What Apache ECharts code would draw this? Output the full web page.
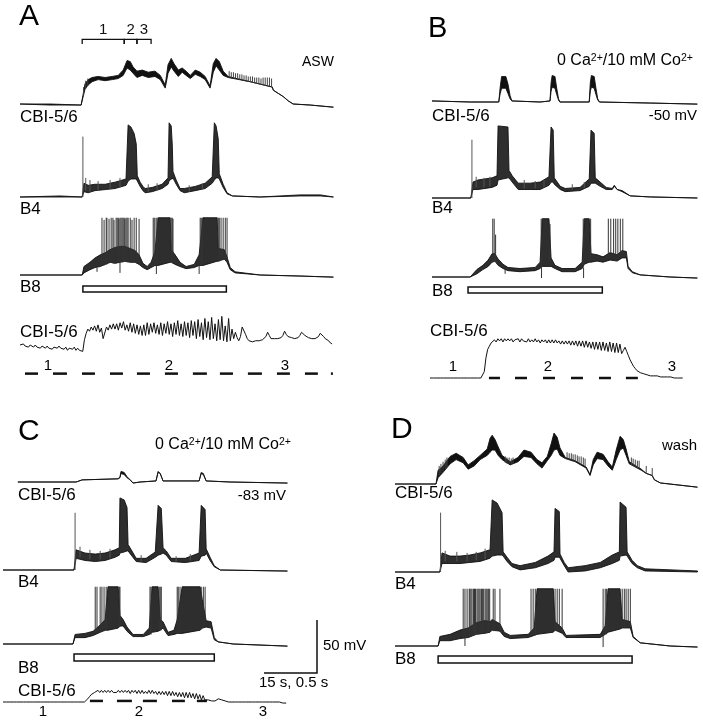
<!DOCTYPE html>
<html><head><meta charset="utf-8">
<script src="https://cdn.jsdelivr.net/npm/echarts@6/dist/echarts.min.js"></script>
<style>html,body{margin:0;padding:0;background:#fff}#c{width:703px;height:720px}</style>
</head><body><div id="c"></div>
<script>
// ---------- DATA (slow traces: time s, voltage mV above rest; [t, low, high]) ----------
// Panel A (ASW)
const A_CBI = [[0,0,0],[8.5,-1,0],[17.3,-1,-1],[17.8,6,8],[18.4,14,19],[19.3,18,23],[20.4,21,25],[22.1,23,26],[24.1,22,25],[26.1,23,26],[27.8,24,27],[29.2,27,32],[30.3,34,41],[31.2,32,40],[32.0,29,35],[33.1,25,31],[34.6,27,32],[36.3,25,30],[38.2,26,31],[39.7,23,27],[41.1,15,18],[41.9,29,37],[42.8,35,43],[43.6,31,38],[44.8,26,32],[45.9,30,34],[47.0,27,31],[48.2,24,27],[49.6,28,32],[51.0,26,30],[52.4,23,26],[53.8,15,17],[54.7,30,38],[55.5,36,43],[56.4,32,40],[57.5,27,31],[58.9,25,26],[65.2,21,21],[71.4,16,16],[71.7,13,13],[73.1,10,10],[74.5,7,7],[75.9,3,3],[77.3,0,0],[82.2,-1,-1],[88.7,-3,-3]];
const A_CBI_spk = [[18.0,8,16],[18.6,14,22],[19.2,17,24],[59.2,25,31],[59.8,24,30],[60.4,24,30],[61.0,24,29],[61.6,23,29],[62.2,23,28],[62.8,22,28],[63.4,22,27],[64.0,21,27],[64.6,21,26],[65.2,21,26],[65.8,20,26],[66.4,20,25],[67.0,19,25],[67.6,19,25],[68.2,18,24],[68.8,18,25],[69.4,17,25],[70.0,17,25],[70.6,17,25],[71.2,16,24]];
const A_B4 = [[0,0,0],[11.3,0,1],[17.6,0,0],[18.1,5,13],[19.3,4,11],[21.2,6,12],[24.1,7,12],[26.9,8,14],[30.0,11,17],[30.6,15,68],[31.4,17,66],[32.3,17,60],[32.9,17,50],[33.2,15,20],[34.0,10,14],[34.8,6,10],[35.4,4,8],[37.4,5,9],[40.2,8,12],[41.9,12,18],[42.2,15,70],[42.8,17,67],[43.1,17,49],[43.3,18,24],[44.2,12,16],[45.3,6,8],[46.5,4,8],[49.6,6,10],[52.4,8,13],[54.4,13,19],[55.0,16,70],[55.5,18,67],[56.1,18,55],[56.4,17,22],[57.5,9,12],[58.6,3,4],[60.1,1,1],[68.0,0,0],[79.3,1,2],[85.0,1,2],[88.7,0,0]];
const A_B4_spk = [[17.8,0,57],[18.6,6,18],[19.8,5,16],[22.1,6,15],[25.5,7,16],[28.3,9,18],[36.3,5,12],[38.8,6,13],[47.9,5,11],[51.6,7,13]];
const A_B8 = [[0,0,0],[17.6,0,0],[18.1,2,8],[19.8,5,12],[21.2,7,16],[22.7,8,19],[24.1,10,21],[25.5,12,24],[26.9,11,26],[28.3,12,27],[29.7,13,27],[31.2,12,25],[32.6,12,23],[33.7,10,19],[34.8,7,11],[36.0,5,8],[37.1,7,12],[38.2,9,22],[39.1,9,54],[42.5,12,54],[42.8,12,24],[43.9,10,19],[45.3,8,12],[47.0,6,8],[49.3,7,10],[50.7,9,19],[51.8,9,54],[55.8,13,54],[56.1,13,25],[57.8,15,24],[58.6,12,17],[59.5,5,7],[60.9,2,3],[68.0,0,0],[79.3,-1,-1],[88.7,-2,-2]];
const A_B8_spk = [[23.2,9,54],[23.8,9,52],[24.4,10,54],[24.6,10,54],[25.2,11,53],[25.8,12,54],[26.3,11,54],[26.6,11,52],[27.2,11,54],[27.5,12,54],[27.8,12,54],[28.0,12,53],[28.3,12,54],[28.6,12,54],[28.9,12,54],[29.2,12,54],[29.5,13,54],[29.7,13,53],[30.0,13,54],[30.3,12,54],[30.6,12,54],[31.2,12,54],[31.7,12,52],[32.3,12,54],[32.9,11,54],[33.7,10,53],[37.7,8,54],[38.0,9,54],[38.5,9,54],[38.8,9,54],[42.8,12,54],[43.1,12,54],[43.3,11,53],[51.0,9,54],[51.3,9,54],[51.6,9,54],[56.1,13,54],[56.4,13,54],[56.9,14,54],[57.5,14,54],[58.1,15,54],[58.6,12,54],[28.3,12,2],[38.6,9,1],[50.7,9,1],[21.8,7,3]];
const A_STIM = [17.8, 58.4];
const A_BRACKET = [17.6, 29.5, 33.1, 37.1];
const A_BRACKET_LABELS = ['1', '2', '3'];
// expanded CBI-5/6 (16 ms samples, mV)
const A_EXP = [0,-1,1,-1,0,-2,0,-1,-2,0,-2,-1,-3,-1,-2,-3,-1,-3,-2,-4,-2,-1,-3,-1,-3,-2,-4,-2,-5,-3,-2,-4,-2,-5,-3,-5,-4,-6,
 5,11,15,13,17,14,18,13,19,12,16,6,5,17,14,19,15,20,15,20,14,21,16,22,14,19,13,21,12,20,11,19,10,18,9,
 19,9,21,10,20,12,21,11,19,10,21,9,20,11,22,10,20,8,21,10,23,9,20,8,22,9,21,7,23,9,22,6,24,8,21,5,25,7,22,5,26,6,20,4,24,5,27,4,18,3,25,4,15,6,
 12,7,4,8,17,18,10,6,4,3,3,3,4,4,4,4,5,5,8,12,9,6,6,6,6,6,6,7,9,13,10,8,7,7,7,6,7,7,9,12,13,9,8,7,7,6,6,6,7,8,11,12,8,6,5,4,2,1];
const A_EXP_PULSES = [[47,170],[311,443],[585,707],[849,971],[1103,1226],[1367,1490],[1631,1763],[1886,2009],[2150,2282],[2424,2546],[2688,2810],[2933,2952]];

// Panel B (0 Ca / 10 mM Co, -50 mV)
const B_CBI = [[0,1,1],[10.8,0,0],[18.9,0,0],[19.3,8,14],[19.7,13,24],[20.9,13,24],[21.5,8,17],[22.1,3,6],[22.6,1,1],[30.6,0,0],[33.4,1,1],[33.7,10,18],[34.0,14,25],[34.8,13,24],[35.3,7,13],[35.8,2,3],[36.2,0,0],[44.5,0,0],[44.8,10,18],[45.1,14,25],[45.9,13,24],[46.4,7,13],[46.9,2,3],[47.4,0,0],[61.8,-1,-1],[75.1,-2,-2]];
const B_B4 = [[0,0,0],[11.0,0,0],[11.6,8,15],[13.0,8,17],[15.0,9,18],[17.0,10,19],[18.4,12,21],[18.7,17,68],[21.5,19,67],[21.8,19,26],[22.7,15,21],[24.4,8,14],[27.8,8,14],[30.6,8,15],[33.1,12,20],[33.7,15,67],[34.3,15,64],[34.6,13,19],[36.3,8,11],[37.7,6,9],[41.9,7,10],[44.5,11,18],[45.0,14,64],[45.9,14,61],[46.2,14,19],[47.6,11,15],[49.3,8,10],[51.0,8,9],[51.6,11,12],[52.4,8,8],[53.8,6,7],[56.1,2,2],[61.8,1,1],[75.1,0,0]];
const B_B4_spk = [[11.3,0,55],[12.5,10,20],[14.7,10,19],[16.4,11,20],[26.1,9,17],[29.2,9,16],[31.7,10,17],[39.7,8,13],[43.1,9,15]];
const B_B8 = [[0,0,0],[10.8,0,0],[12.7,3,7],[14.4,7,11],[15.9,10,16],[17.0,14,22],[17.8,15,22],[18.7,11,17],[20.1,8,12],[21.5,6,9],[24.9,5,8],[29.2,6,9],[30.6,8,14],[31.2,10,55],[33.1,10,55],[33.7,10,18],[34.8,8,11],[36.8,5,8],[40.5,5,8],[42.5,8,14],[43.1,12,55],[44.5,14,55],[45.0,14,22],[46.7,15,21],[48.4,14,19],[50.4,16,23],[52.4,15,21],[53.8,18,25],[55.0,18,24],[55.5,8,10],[56.7,4,5],[58.9,2,2],[67.4,0,0],[75.1,-1,-1]];
const B_B8_spk = [[17.2,14,55],[17.6,14,55],[18.0,15,40],[30.9,9,55],[33.4,10,50],[42.8,10,55],[44.9,14,55],[49.9,20,55],[50.6,20,55],[51.4,20,55],[52.0,20,55],[52.6,20,55],[53.3,22,55],[54.0,22,55],[31.0,9,-1],[42.9,9,-1],[20.7,8,3]];
const B_STIM = [10.2, 48.2];
const B_EXP = [0,0,0,0,0,0,0,0,0,0,0,0,0,0,0,0,0,0,0,0,0,0,0,0,0,0,0,0,0,0,0,0,
 6,19,27,30,33,32,36,34,37,
 35,37,34,37,35,37,35,37,34,36,35,37,34,37,35,36,34,37,34,36,34,37,34,36,33,36,34,36,33,36,33,36,33,36,33,35,32,35,32,35,32,35,31,35,
 31,35,30,35,30,35,29,35,29,34,28,34,27,34,27,34,26,34,26,33,25,34,25,33,24,33,24,32,23,
 26,29,25,21,17,14,11,9,7,6,5,4,4,3,3,3,2,2,2,2,2,2,1,1,1,1,1,1,1,0,0,0,0,0,0,0];
const B_EXP_PULSES = [[556,660],[802,915],[1066,1179],[1330,1443],[1594,1707],[1848,1961]];

// Panel C (0 Ca / 10 mM Co, -83 mV)
const C_CBI = [[4.2,0,0],[20.7,0,0],[22.4,2,2],[32.6,3,3],[33.1,4,5],[33.4,8,10],[34.3,7,9],[35.1,4,5],[36.0,2,2],[36.8,-1,-1],[38.8,0,0],[43.3,1,1],[43.9,9,10],[44.5,8,8],[45.3,1,1],[55.5,1,1],[56.1,8,9],[56.7,7,8],[57.5,1,1],[64.3,0,0],[80.5,-1,-1]];
const C_B4 = [[0,0,0],[20.1,0,0],[20.7,11,19],[23.2,9,16],[26.1,8,15],[28.9,9,16],[31.7,12,19],[32.9,14,21],[33.1,16,68],[34.3,17,66],[35.1,18,59],[35.4,18,24],[36.3,14,19],[37.7,8,11],[40.5,7,11],[43.1,12,17],[43.9,14,61],[44.8,15,58],[45.3,16,21],[46.2,14,18],[47.6,8,11],[51.6,7,11],[55.5,9,16],[56.1,13,61],[57.2,14,57],[57.5,16,20],[58.6,9,12],[59.8,3,4],[61.5,0,0],[80.5,-1,-1]];
const C_B4_spk = [[20.4,0,54],[21.8,12,22],[24.6,10,19],[27.5,10,18],[30.3,11,20],[39.1,8,14],[49.0,8,13],[53.0,9,15]];
const C_B8 = [[0,0,0],[19.8,0,0],[20.4,6,9],[23.2,6,10],[25.5,8,12],[27.5,11,18],[28.9,13,23],[29.7,13,54],[32.6,15,54],[33.1,17,27],[34.0,17,23],[35.1,12,16],[36.8,7,9],[39.7,7,9],[41.4,9,15],[42.2,11,54],[43.9,12,54],[44.5,13,23],[45.3,15,21],[46.7,8,11],[48.4,9,13],[49.3,10,23],[50.7,10,54],[55.8,13,54],[56.4,15,42],[57.5,16,22],[58.9,15,21],[59.8,4,6],[60.9,2,2],[65.2,0,0],[80.5,-2,-2]];
const C_B8_spk = [[26.1,11,54],[26.6,11,54],[27.5,11,54],[28.0,12,54],[28.6,12,54],[29.2,13,54],[32.9,16,54],[33.1,16,54],[41.6,9,54],[41.9,9,54],[44.2,13,54],[44.5,13,54],[44.8,13,54],[49.3,10,54],[49.6,10,54],[50.1,10,54],[56.1,14,54],[56.7,15,54],[57.2,16,54]];
const C_STIM = [20.1, 59.8];
const C_EXP = [0,0,0,0,0,0,0,0,0,0,0,0,0,0,0,0,0,0,0,0,0,0,0,0,0,0,0,0,0,0,0,0,0,0,0,0,0,0,0,0,0,0,0,0,0,0,0,0,0,
 1,3,5,7,8,9,10,
 11,9,11,9,11,9,11,9,11,9,10,9,11,9,11,9,11,9,11,8,11,9,11,8,11,8,11,8,10,8,11,8,11,8,10,7,10,7,10,7,10,6,10,6,10,6,9,5,9,5,9,4,9,4,9,4,8,3,8,3,7,2,6,2,
 3,2,1,1,1,1,1,3,3,2,1,1,1,0,0,0,0,0,0,0,0,0,0,0,0,0,0,0,0,0,0,0,0,0,0,0,0,0,0,0,0,0,0,0,0,-1,-1,-1];
const C_EXP_PULSES = [[820,943],[1075,1216],[1320,1452],[1594,1716],[1829,1924]];

// Panel D (wash)
const D_CBI = [[0,0,0],[11.6,0,0],[12.2,6,13],[13.6,11,17],[15.6,19,26],[17.3,23,29],[19.3,20,25],[20.7,14,18],[22.4,17,22],[24.1,23,27],[26.1,27,33],[26.9,30,43],[27.5,32,46],[28.3,32,42],[29.2,27,35],[30.3,23,27],[32.6,18,21],[34.8,21,25],[36.5,26,32],[38.5,25,30],[40.2,19,23],[41.6,15,20],[43.1,22,26],[44.2,27,38],[45.0,32,48],[45.9,33,44],[46.7,27,34],[48.2,24,25],[51.0,21,22],[54.1,15,16],[55.2,8,9],[56.1,18,23],[57.2,24,30],[58.9,23,28],[60.3,17,21],[61.5,13,16],[62.6,23,32],[63.7,32,45],[64.6,34,42],[65.4,27,33],[66.3,19,21],[69.7,13,14],[71.1,10,10],[72.8,8,8],[73.4,4,4],[75.1,1,1],[85.6,-3,-3]];
const D_CBI_spk = [[12.5,8,17],[13.0,10,19],[13.6,12,21],[14.2,14,23],[14.7,16,25],[31.2,20,26],[31.7,19,25],[32.3,19,25],[32.9,18,24],[33.4,19,25],[48.7,24,30],[49.3,23,29],[49.9,23,29],[50.4,22,28],[51.0,21,28],[51.6,21,27],[52.1,20,26],[52.7,19,26],[53.3,18,25],[53.8,17,24],[66.9,18,25],[67.4,17,24],[68.0,16,23],[68.6,15,22],[69.1,15,22],[71.1,10,17],[72.8,8,15]];
const D_B4 = [[0,0,0],[12.7,0,0],[13.3,8,18],[15.6,8,15],[18.4,8,15],[21.2,9,16],[24.1,10,18],[26.9,13,21],[27.5,15,68],[28.9,16,65],[30.3,16,56],[30.6,15,19],[31.7,10,14],[33.1,5,8],[35.4,2,6],[39.7,4,9],[43.3,8,15],[45.0,11,19],[45.3,14,60],[46.5,14,57],[46.7,13,17],[47.9,6,9],[49.0,0,4],[53.8,1,6],[58.1,4,9],[61.5,8,16],[63.5,11,19],[63.7,15,66],[65.4,16,61],[65.7,15,19],[67.1,8,11],[68.6,4,6],[70.8,1,3],[85.6,0,1]];
const D_B4_spk = [[12.9,0,56],[14.2,10,20],[17.5,10,19],[20.4,10,18],[23.0,11,19],[25.5,12,22]];
const D_B8 = [[0,0,0],[12.2,0,0],[12.7,5,9],[15.6,5,11],[18.4,7,15],[20.7,8,17],[23.0,11,22],[25.5,12,24],[26.9,13,23],[27.5,15,25],[29.7,14,21],[30.9,9,13],[32.6,7,10],[37.7,8,11],[39.4,10,17],[40.2,11,54],[44.8,13,54],[45.3,15,23],[47.3,12,17],[48.4,8,10],[58.1,8,11],[59.5,11,19],[60.3,13,54],[63.7,16,54],[64.3,17,25],[66.6,17,23],[67.4,8,9],[69.4,3,3],[77.9,0,0],[85.6,-1,-1]];
const D_B8_spk = [[19.3,8,54],[19.8,8,54],[20.4,8,54],[21.0,8,54],[21.2,9,54],[21.5,9,54],[21.8,10,54],[22.2,10,54],[22.5,10,54],[22.8,11,54],[23.2,11,54],[23.5,11,54],[23.8,11,54],[24.1,12,54],[24.5,12,54],[24.8,12,54],[25.1,12,54],[25.5,12,54],[25.8,13,54],[26.1,13,54],[26.5,13,54],[26.8,13,54],[27.8,14,54],[28.3,14,54],[29.7,14,54],[38.5,10,54],[39.1,10,54],[39.7,10,54],[45.3,14,54],[45.9,14,54],[46.5,14,54],[47.3,13,54],[58.9,11,54],[59.5,11,54],[59.9,11,54],[64.3,17,54],[64.9,17,54],[65.4,17,54],[66.0,17,54],[66.6,17,54],[19.8,8,0],[58.9,10,-1]];
const D_STIM = [12.2, 67.1];

// scale bar values
const SCALE_S = 15, SCALE_MV = 50;
const EXP_DT_MS = 16;

// ---------- LAYOUT ----------
const PXS = 53/15, PXMV = 53/50, PXMS = 53/500;
const FONT = '"Liberation Sans", Arial, Helvetica, sans-serif';
const INK = '#111';
const grids=[], xAxes=[], yAxes=[], series=[];
function addGrid(left, top, width, height, xmin, xmax, ymin, ymax){
  const i = grids.length;
  grids.push({left, top, width, height, show:false});
  xAxes.push({type:'value', gridIndex:i, min:xmin, max:xmax, show:false});
  yAxes.push({type:'value', gridIndex:i, min:ymin, max:ymax, show:false});
  return i;
}
function traceGrid(x0, tmax, yBase, vmin, vmax, pxPerT){
  return addGrid(x0, yBase - vmax*PXMV, tmax*pxPerT, (vmax-vmin)*PXMV, 0, tmax, vmin, vmax);
}
function band(gi, env, fill){
  series.push({type:'custom', xAxisIndex:gi, yAxisIndex:gi, data:env, silent:true, animation:false,
    encode:{x:0, y:[1,2]},
    renderItem(params, api){
      if(params.dataIndex!==0) return null;
      const up = env.map(d=>api.coord([d[0], d[2]]));
      const lo = env.map(d=>api.coord([d[0], d[1]])).reverse();
      return {type:'polygon', shape:{points:up.concat(lo)}, style:{fill:fill||INK, stroke:INK, lineWidth:0.9, lineJoin:'round'}};
    }});
}
function spikes(gi, arr, color){
  series.push({type:'custom', xAxisIndex:gi, yAxisIndex:gi, data:arr, silent:true, animation:false,
    encode:{x:0, y:[1,2]},
    renderItem(params, api){
      const a = api.coord([api.value(0), api.value(1)]), b = api.coord([api.value(0), api.value(2)]);
      return {type:'line', shape:{x1:a[0], y1:a[1], x2:b[0], y2:b[1]}, style:{stroke:color||'#333', lineWidth:1}};
    }});
}
function sampled(gi, vals, dt){
  series.push({type:'line', xAxisIndex:gi, yAxisIndex:gi, data:vals.map((v,i)=>[i*dt, v]), symbol:'none', silent:true, animation:false,
    lineStyle:{color:INK, width:1}});
}
function pulses(gi, arr, level){
  series.push({type:'custom', xAxisIndex:gi, yAxisIndex:gi, data:arr, silent:true, animation:false,
    encode:{x:[0,1]},
    renderItem(params, api){
      const a = api.coord([api.value(0), level]), b = api.coord([api.value(1), level]);
      return {type:'line', shape:{x1:a[0], y1:a[1], x2:b[0], y2:b[1]}, style:{stroke:INK, lineWidth:2.5}};
    }});
}
function stimBar(x0, tmax, top, h, st){
  const gi = addGrid(x0, top, tmax*PXS, h, 0, tmax, 0, 1);
  series.push({type:'custom', xAxisIndex:gi, yAxisIndex:gi, data:[st], silent:true, animation:false,
    encode:{x:[0,1]},
    renderItem(params, api){
      const a = api.coord([api.value(0), 1]), b = api.coord([api.value(1), 0]);
      return {type:'rect', shape:{x:a[0], y:a[1], width:b[0]-a[0], height:b[1]-a[1]}, style:{fill:'#fff', stroke:INK, lineWidth:1.5}};
    }});
}
const GREYBAND = '#2e2e2e';

// Panel A
const aT = 88.7;
const gA1 = traceGrid(20, aT, 104, -10, 66, PXS);
band(gA1, A_CBI); spikes(gA1, A_CBI_spk, '#444');
const brData = A_BRACKET_LABELS.map((l,i)=>[A_BRACKET[i], A_BRACKET[i+1], l]);
series.push({type:'custom', xAxisIndex:gA1, yAxisIndex:gA1, data:brData, silent:true, animation:false,
  encode:{x:[0,1]},
  renderItem(params, api){
    const lvl = 61, tick = 4.5;
    const a = api.coord([api.value(0), lvl]), b = api.coord([api.value(1), lvl]);
    const a2 = api.coord([api.value(0), lvl-tick]), b2 = api.coord([api.value(1), lvl-tick]);
    return {type:'group', children:[
      {type:'polyline', shape:{points:[a2, a, b, b2]}, style:{stroke:INK, lineWidth:1.3, fill:null}},
      {type:'text', x:(a[0]+b[0])/2, y:a[1]-9, style:{text:brData[params.dataIndex][2], font:'15px '+FONT, fill:INK, align:'center', verticalAlign:'middle', textAlign:'center', textVerticalAlign:'middle'}}
    ]};
  }});
const gA2 = traceGrid(20, aT, 197, -10, 75, PXS);
band(gA2, A_B4, GREYBAND); spikes(gA2, A_B4_spk, '#555');
const gA3 = traceGrid(20, aT, 275, -10, 58, PXS);
band(gA3, A_B8, GREYBAND); spikes(gA3, A_B8_spk, '#333');
stimBar(20, aT, 286, 6, A_STIM);
const gA4 = traceGrid(20, 313/PXMS, 345, -30, 30, PXMS);
sampled(gA4, A_EXP, EXP_DT_MS); pulses(gA4, A_EXP_PULSES, -27);

// Panel B
const bT = 75.1;
const gB1 = traceGrid(432, bT, 102, -10, 30, PXS); band(gB1, B_CBI);
const gB2 = traceGrid(432, bT, 198, -10, 75, PXS); band(gB2, B_B4, GREYBAND); spikes(gB2, B_B4_spk, '#555');
const gB3 = traceGrid(432, bT, 277, -10, 58, PXS); band(gB3, B_B8, GREYBAND); spikes(gB3, B_B8_spk, '#333');
stimBar(432, bT, 287, 6, B_STIM);
const gB4 = traceGrid(430, 253/PXMS, 378, -10, 45, PXMS);
sampled(gB4, B_EXP, EXP_DT_MS); pulses(gB4, B_EXP_PULSES, 0);

// Panel C
const cT = 80.5;
const gC1 = traceGrid(3, cT, 482, -10, 20, PXS); band(gC1, C_CBI);
const gC2 = traceGrid(3, cT, 570, -10, 75, PXS); band(gC2, C_B4, GREYBAND); spikes(gC2, C_B4_spk, '#555');
const gC3 = traceGrid(3, cT, 644, -10, 58, PXS); band(gC3, C_B8, GREYBAND); spikes(gC3, C_B8_spk, '#333');
stimBar(3, cT, 654, 7, C_STIM);
const gC4 = traceGrid(3, 284/PXMS, 702, -10, 20, PXMS);
sampled(gC4, C_EXP, EXP_DT_MS); pulses(gC4, C_EXP_PULSES, 1);
const gS = addGrid(317 - SCALE_S*PXS, 673 - SCALE_MV*PXMV, SCALE_S*PXS, SCALE_MV*PXMV, 0, SCALE_S, 0, SCALE_MV);
series.push({type:'custom', xAxisIndex:gS, yAxisIndex:gS, data:[[SCALE_S, SCALE_MV]], silent:true, animation:false,
  encode:{x:0, y:1},
  renderItem(params, api){
    const p0 = api.coord([0,0]), p1 = api.coord([api.value(0),0]), p2 = api.coord([api.value(0), api.value(1)]);
    return {type:'polyline', shape:{points:[p0,p1,p2]}, style:{stroke:INK, lineWidth:1.5, fill:null}};
  }});

// Panel D
const dT = 85.6;
const gD1 = traceGrid(395, dT, 484, -10, 55, PXS); band(gD1, D_CBI); spikes(gD1, D_CBI_spk, '#444');
const gD2 = traceGrid(395, dT, 572, -10, 75, PXS); band(gD2, D_B4, GREYBAND); spikes(gD2, D_B4_spk, '#555');
const gD3 = traceGrid(395, dT, 646, -10, 58, PXS); band(gD3, D_B8, GREYBAND); spikes(gD3, D_B8_spk, '#333');
stimBar(395, dT, 656, 7, D_STIM);

// ---------- TEXT ----------
function T(text, x, y, size, align, rich){
  const st = {text, font: size+'px '+FONT, fill:'#000', align:align||'left', verticalAlign:'middle', textAlign:align||'left', textVerticalAlign:'middle'};
  if(rich) st.rich = rich;
  return {type:'text', x, y, silent:true, style:st};
}
const SUP = {s:{fontSize:10.5, fontFamily:FONT, verticalAlign:'top', fill:'#000'}};
const CO = '0 Ca{s|2+}/10 mM Co{s|2+}';
const texts = [
  T('A', 19, 17, 30), T('B', 428, 29, 29), T('C', 18, 432, 30), T('D', 391, 430, 30),
  T('ASW', 302, 62, 14),
  T('CBI-5/6', 20, 117, 17), T('B4', 20, 209, 17), T('B8', 20, 287, 17), T('CBI-5/6', 20, 332, 17),
  T('1', 48, 366, 15, 'center'), T('2', 169, 366, 15, 'center'), T('3', 285, 366, 15, 'center'),
  T(CO, 557, 61, 16, 'left', SUP), T('-50 mV', 697, 116, 15, 'right'),
  T('CBI-5/6', 432, 116, 17), T('B4', 432, 208, 17), T('B8', 432, 291, 17), T('CBI-5/6', 430, 331, 17),
  T('1', 453, 367, 15, 'center'), T('2', 548, 367, 15, 'center'), T('3', 672, 367, 15, 'center'),
  T(CO, 155, 445, 16, 'left', SUP), T('-83 mV', 286, 496, 15, 'right'),
  T('CBI-5/6', 18, 495, 17), T('B4', 18, 582, 17), T('B8', 18, 668, 17), T('CBI-5/6', 18, 691, 17),
  T('1', 43, 712, 15, 'center'), T('2', 139, 712, 15, 'center'), T('3', 263, 712, 15, 'center'),
  T('50 mV', 323, 646, 15), T('15 s, 0.5 s', 259, 683, 15),
  T('wash', 662, 446, 15),
  T('CBI-5/6', 395, 493, 17), T('B4', 395, 584, 17), T('B8', 395, 659, 17)
];

const chart = echarts.init(document.getElementById('c'), null, {renderer:'canvas', width:703, height:720});
chart.setOption({
  backgroundColor:'#fff', animation:false,
  grid:grids, xAxis:xAxes, yAxis:yAxes, series,
  graphic:{elements:texts}
});
</script></body></html>
